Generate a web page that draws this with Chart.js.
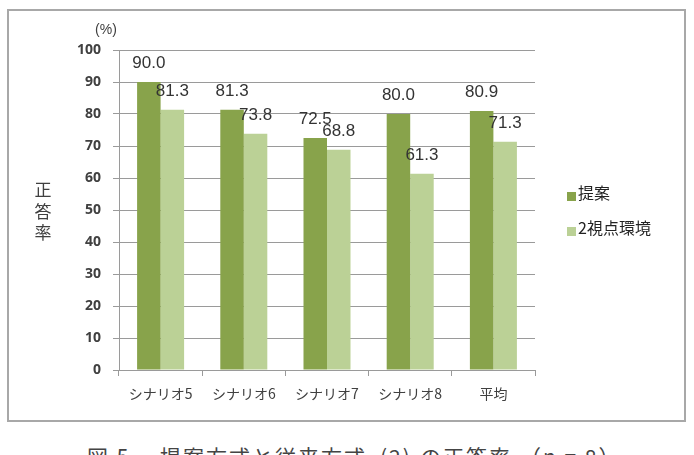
<!DOCTYPE html>
<html>
<head>
<meta charset="utf-8">
<script src="https://cdn.jsdelivr.net/npm/chart.js@4"></script>
<style>
  html, body { margin: 0; padding: 0; background: #fff; }
  body { width: 694px; height: 455px; overflow: hidden; position: relative; }
  #frame {
    position: absolute; left: 7px; top: 9px; width: 675px; height: 409px;
    border: 2px solid #a8a8a8;
  }
  #wrap { position: absolute; left: 0; top: 0; width: 694px; height: 430px; }
  .cap {
    position: absolute; top: 441px; white-space: nowrap; line-height: 22px;
    font: 21px "Noto Sans CJK JP", sans-serif; color: #444; letter-spacing: 2px;
  }
</style>
</head>
<body>
<div id="frame"></div>
<div id="wrap"><canvas id="chart" width="694" height="430"></canvas></div>
<div id="caption">
  <span class="cap" style="left:87px">図 5</span>
  <span class="cap" style="left:160px">提案方式と従来方式</span>
  <span class="cap" style="left:380px">(2)</span>
  <span class="cap" style="left:420px">の正答率</span>
  <span class="cap" style="left:520px">（n = 8）</span>
</div>
<script>
// データ
const categories = ["シナリオ5", "シナリオ6", "シナリオ7", "シナリオ8", "平均"];
const proposed = [90.0, 81.3, 72.5, 80.0, 80.9];
const twoView = [81.3, 73.8, 68.8, 61.3, 71.3];
const seriesNames = ["提案", "2視点環境"];
const yTicks = [0, 10, 20, 30, 40, 50, 60, 70, 80, 90, 100];

const colors = ["#88a34b", "#bbd196"];
const gridColor = "#9a9a9a";
const textColor = "#404040";

// 値ラベル、縦書きタイトル、凡例
const extras = {
  id: "extras",
  afterDatasetsDraw(chart) {
    const ctx = chart.ctx;
    ctx.save();
    ctx.font = '17px "Liberation Sans", sans-serif';
    ctx.fillStyle = "#333";
    ctx.textAlign = "center";
    ctx.textBaseline = "middle";
    chart.data.datasets.forEach((ds, i) => {
      chart.getDatasetMeta(i).data.forEach((bar, j) => {
        ctx.fillText(ds.data[j].toFixed(1), bar.x, bar.y - 19);
      });
    });
    ctx.restore();
  },
  afterDraw(chart) {
    const ctx = chart.ctx;
    ctx.save();
    ctx.fillStyle = textColor;
    // (%)
    ctx.font = '14px "Liberation Sans", sans-serif';
    ctx.textAlign = "center";
    ctx.textBaseline = "middle";
    ctx.fillText("(%)", 106, 30);
    // 正答率 (縦書き)
    ctx.font = '17px "Noto Sans CJK JP", sans-serif';
    ["正", "答", "率"].forEach((ch, i) => ctx.fillText(ch, 43, 190 + i * 21.5));
    // 凡例
    ctx.font = '16px "Noto Sans CJK JP", sans-serif';
    ctx.textAlign = "left";
    chart.data.datasets.forEach((ds, i) => {
      const y = 193 + i * 35;
      ctx.fillStyle = ds.backgroundColor;
      ctx.fillRect(567, y - 1, 9, 9);
      ctx.fillStyle = "#222";
      ctx.fillText(ds.label, 578, y);
    });
    ctx.restore();
  }
};

new Chart(document.getElementById("chart"), {
  type: "bar",
  data: {
    labels: categories,
    datasets: [
      { label: seriesNames[0], data: proposed, backgroundColor: colors[0] },
      { label: seriesNames[1], data: twoView, backgroundColor: colors[1] }
    ]
  },
  options: {
    responsive: false,
    animation: false,
    layout: { padding: { left: 0, right: 159, top: 50, bottom: 20 } },
    datasets: { bar: { categoryPercentage: 0.565, barPercentage: 1.0 } },
    plugins: { legend: { display: false }, tooltip: { enabled: false } },
    scales: {
      x: {
        afterFit: s => { s.height = 40; },
        grid: { offset: true, drawOnChartArea: false, tickLength: 6, color: gridColor },
        border: { color: gridColor },
        ticks: {
          color: textColor, padding: 9,
          font: { family: '"Noto Sans CJK JP", sans-serif', size: 14 }
        }
      },
      y: {
        min: 0, max: 100,
        afterFit: s => { s.width = 119; },
        afterBuildTicks: s => { s.ticks = yTicks.map(v => ({ value: v })); },
        grid: { color: gridColor, tickLength: 6 },
        border: { color: gridColor },
        ticks: {
          color: textColor, padding: 12,
          font: { family: '"Open Sans", sans-serif', size: 14, weight: "bold" }
        }
      }
    }
  },
  plugins: [extras]
});
</script>
</body>
</html>
